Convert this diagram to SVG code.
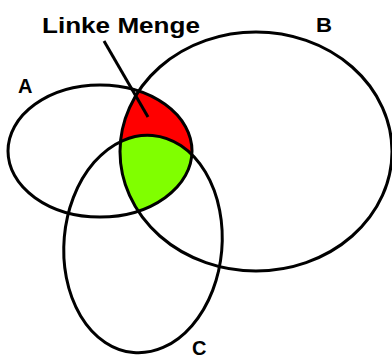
<svg xmlns="http://www.w3.org/2000/svg" width="392" height="358" viewBox="0 0 392 358">
<style>
.outline{fill:none;stroke:#000;stroke-width:3}
.lbl{font-family:"Liberation Sans",Arial,sans-serif;font-weight:bold;fill:#000}
</style>
<defs>
<clipPath id="clipB"><ellipse cx="256" cy="151.5" rx="136" ry="119.5"/></clipPath>
<clipPath id="clipA"><ellipse cx="100" cy="151" rx="92" ry="66"/></clipPath>
</defs>
<rect width="392" height="358" fill="#fff"/>
<g id="fills">
<g clip-path="url(#clipB)">
<g clip-path="url(#clipA)">
<ellipse cx="100" cy="151" rx="92" ry="66" fill="#ff0000"/>
<ellipse cx="143" cy="244" rx="79" ry="109" transform="rotate(5 143 244)" fill="#80ff00"/>
</g>
</g>
</g>
<g id="A">
<ellipse class="outline" cx="100" cy="151" rx="92" ry="66"/>
<text class="lbl" x="18" y="93" font-size="20">A</text>
</g>
<g id="B">
<ellipse class="outline" cx="256" cy="151.5" rx="136" ry="119.5"/>
<text class="lbl" x="316" y="32" font-size="21" textLength="16" lengthAdjust="spacingAndGlyphs">B</text>
</g>
<g id="C">
<ellipse class="outline" cx="143" cy="244" rx="79" ry="109" transform="rotate(5 143 244)"/>
<text class="lbl" x="192" y="355" font-size="20">C</text>
</g>
<g id="linke-menge">
<text class="lbl" x="42" y="33" font-size="22" textLength="158" lengthAdjust="spacingAndGlyphs">Linke Menge</text>
</g>
<g id="connectors">
<line x1="104" y1="41" x2="148" y2="117" stroke="#000" stroke-width="3"/>
</g>
</svg>
